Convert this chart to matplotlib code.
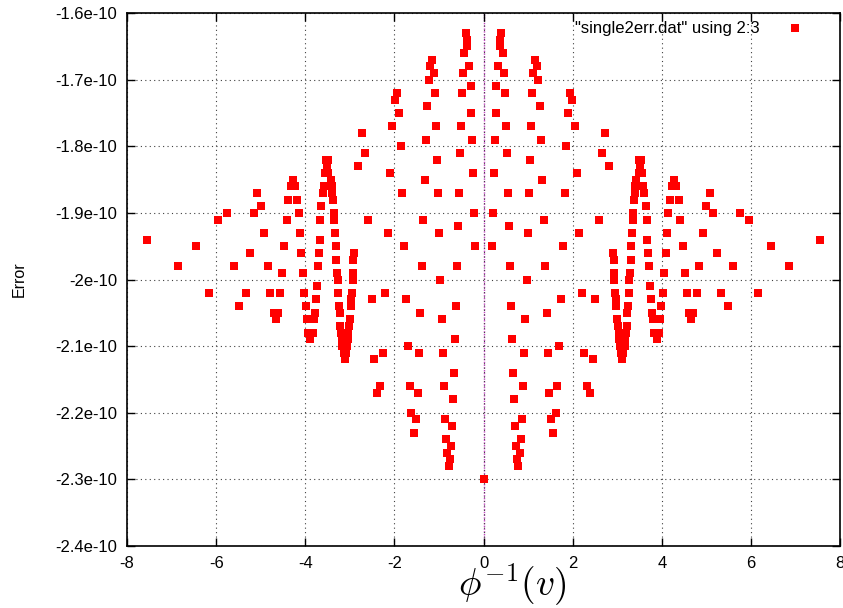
import matplotlib
matplotlib.use("Agg")
import matplotlib.pyplot as plt
from matplotlib.ticker import FuncFormatter, MultipleLocator

plt.rcParams['font.family'] = ['Liberation Sans', 'DejaVu Sans']
plt.rcParams['mathtext.fontset'] = 'cm'

# values, y in units of 1e-10
x_right = [0.39, 0.38, 0.36, 0.44, 0.32, 0.46, 0.29, 0.48, 0.27, 0.51, 0.25, 0.53,
           0.23, 0.55, 0.21, 0.57, 0.20, 0.59, 0.61, 0.63, 0.66, 0.68, 0.70, 0.72,
           0.75, 0.78, 0.82, 0.85, 0.87, 0.89, 0.91, 0.94, 0.97, 1.00, 1.02, 1.04,
           1.06, 1.09, 1.12, 1.16, 1.19, 1.23, 1.27, 1.29, 1.32, 1.35, 1.38, 1.42,
           1.45, 1.48, 1.51, 1.57, 1.62, 1.66, 1.70, 1.74, 1.78, 1.82, 1.86, 1.90,
           1.93, 1.99, 2.05, 2.10, 2.14, 2.20, 2.26, 2.32, 2.38, 2.45, 2.51, 2.59,
           2.65, 2.72, 2.82,
           2.91, 2.93, 2.93, 2.93, 2.96, 2.97, 2.97, 2.99, 3.01, 3.03, 3.05, 3.06,
           3.08, 3.11, 3.14, 3.17, 3.18, 3.20, 3.21, 3.23, 3.24, 3.26, 3.27, 3.29,
           3.31, 3.32, 3.33, 3.35, 3.36, 3.38, 3.40, 3.41, 3.42, 3.49, 3.50, 3.51,
           3.53, 3.56, 3.59, 3.61, 3.64, 3.66, 3.68, 3.70, 3.72, 3.74, 3.76, 3.79,
           3.81, 3.83, 3.89, 3.93, 3.97, 3.99, 4.02, 4.06, 4.10, 4.12, 4.15, 4.18,
           4.24, 4.28, 4.33, 4.38, 4.42, 4.47, 4.52, 4.56, 4.62, 4.66, 4.70, 4.78,
           4.84, 4.93, 4.99, 5.08, 5.16, 5.25, 5.34, 5.49, 5.61, 5.76, 5.95, 6.17,
           6.45, 6.86, 7.55]
y_right = [-1.63, -1.64, -1.65, -1.66, -1.68, -1.69, -1.71, -1.72, -1.75, -1.77, -1.79, -1.81,
           -1.84, -1.87, -1.90, -1.92, -1.95, -1.98, -2.04, -2.09, -2.14, -2.18, -2.22, -2.25,
           -2.27, -2.28, -2.26, -2.24, -2.21, -2.16, -2.11, -2.06, -2.00, -1.93, -1.87, -1.82,
           -1.77, -1.72, -1.69, -1.67, -1.68, -1.70, -1.74, -1.79, -1.85, -1.91, -1.98, -2.05,
           -2.11, -2.17, -2.21, -2.23, -2.20, -2.16, -2.10, -2.03, -1.95, -1.87, -1.80, -1.75,
           -1.72, -1.73, -1.77, -1.84, -1.93, -2.02, -2.11, -2.16, -2.17, -2.12, -2.03, -1.91,
           -1.81, -1.78, -1.83,
           -1.96, -1.97, -1.99, -2.00, -2.02, -2.03, -2.04, -2.06, -2.07, -2.08, -2.09, -2.10,
           -2.11, -2.12, -2.11, -2.10, -2.09, -2.08, -2.07, -2.05, -2.04, -2.02, -2.00, -1.99,
           -1.97, -1.95, -1.93, -1.91, -1.90, -1.88, -1.87, -1.86, -1.85, -1.84, -1.82, -1.83,
           -1.82, -1.84, -1.86, -1.87, -1.89, -1.91, -1.94, -1.96, -1.98, -2.01, -2.03, -2.05,
           -2.06, -2.08, -2.09, -2.08, -2.06, -2.04, -2.02, -1.99, -1.96, -1.93, -1.90, -1.88,
           -1.86, -1.85, -1.86, -1.88, -1.91, -1.95, -1.99, -2.02, -2.05, -2.06, -2.05, -2.02,
           -1.98, -1.93, -1.89, -1.87, -1.90, -1.96, -2.02, -2.04, -1.98, -1.90, -1.91, -2.02,
           -1.95, -1.98, -1.94]

x_left = [-0.39, -0.38, -0.36, -0.44, -0.32, -0.46, -0.29, -0.48, -0.27, -0.51, -0.25, -0.53,
          -0.23, -0.55, -0.21, -0.57, -0.20, -0.59, -0.61, -0.63, -0.66, -0.68, -0.70, -0.72,
          -0.75, -0.78, -0.82, -0.85, -0.87, -0.89, -0.91, -0.94, -0.97, -1.00, -1.02, -1.04,
          -1.06, -1.09, -1.12, -1.16, -1.19, -1.23, -1.27, -1.29, -1.32, -1.35, -1.38, -1.42,
          -1.45, -1.48, -1.51, -1.57, -1.62, -1.66, -1.70, -1.74, -1.78, -1.82, -1.86, -1.90,
          -1.93, -1.99, -2.05, -2.10, -2.14, -2.20, -2.26, -2.32, -2.38, -2.45, -2.51, -2.59,
          -2.65, -2.72, -2.82,
          -2.91, -2.93, -2.93, -2.93, -2.96, -2.97, -2.97, -2.99, -3.01, -3.03, -3.05, -3.06,
          -3.08, -3.11, -3.14, -3.17, -3.18, -3.20, -3.21, -3.23, -3.24, -3.26, -3.27, -3.29,
          -3.31, -3.32, -3.33, -3.35, -3.36, -3.38, -3.40, -3.41, -3.42, -3.49, -3.50, -3.51,
          -3.53, -3.56, -3.59, -3.61, -3.64, -3.66, -3.68, -3.70, -3.72, -3.74, -3.76, -3.79,
          -3.81, -3.83, -3.89, -3.93, -3.97, -3.99, -4.02, -4.06, -4.10, -4.12, -4.15, -4.18,
          -4.24, -4.28, -4.33, -4.38, -4.42, -4.47, -4.52, -4.56, -4.62, -4.66, -4.70, -4.78,
          -4.84, -4.93, -4.99, -5.08, -5.16, -5.25, -5.34, -5.49, -5.61, -5.76, -5.95, -6.17,
          -6.45, -6.86, -7.55]
y_left = list(y_right)

x_center = [0.0]
y_center = [-2.30]

xs = x_left + x_center + x_right
ys = [v * 1e-10 for v in y_left + y_center + y_right]

fig = plt.figure(figsize=(8.43, 6.08), dpi=100)
ax = fig.add_axes([127 / 843, 1 - 546 / 608, 713 / 843, 533 / 608])

ax.axvline(0, color='#c040c0', linestyle=(0, (1, 1)), linewidth=1.0, zorder=1)
ax.plot(xs, ys, 's', color='#ff0000', markersize=5.6, markeredgewidth=0,
        label='"single2err.dat" using 2:3', zorder=3)

ax.set_xlim(-8, 8)
ax.set_ylim(-2.4e-10, -1.6e-10)
ax.xaxis.set_major_locator(MultipleLocator(2))
ax.yaxis.set_major_locator(MultipleLocator(0.1e-10))
ax.yaxis.set_major_formatter(FuncFormatter(lambda v, p: f"{v * 1e10:g}e-10"))
ax.xaxis.set_major_formatter(FuncFormatter(lambda v, p: f"{v:g}"))

ax.grid(True, color='0.25', linestyle=(0, (1, 3)), linewidth=0.8)
ax.tick_params(direction='in', top=True, right=True, length=6, width=1,
               labelsize=12, pad=7)
for s in ax.spines.values():
    s.set_linewidth(1.2)

ax.set_xlabel(r'$\phi^{-1}(v)$', fontsize=27)
ax.xaxis.set_label_coords(0.54, -0.03, transform=ax.transAxes)
ax.xaxis.label.set_verticalalignment('top')
ax.set_ylabel('Error', fontsize=11.5)
ax.yaxis.set_label_coords(-0.14, 0.5)

ax.legend(loc='upper right', markerfirst=False, frameon=False, fontsize=12,
          handlelength=1.0, handletextpad=1.6, borderaxespad=0.1,
          bbox_to_anchor=(0.960, 1.0))

fig.savefig('out.png', dpi=100)
